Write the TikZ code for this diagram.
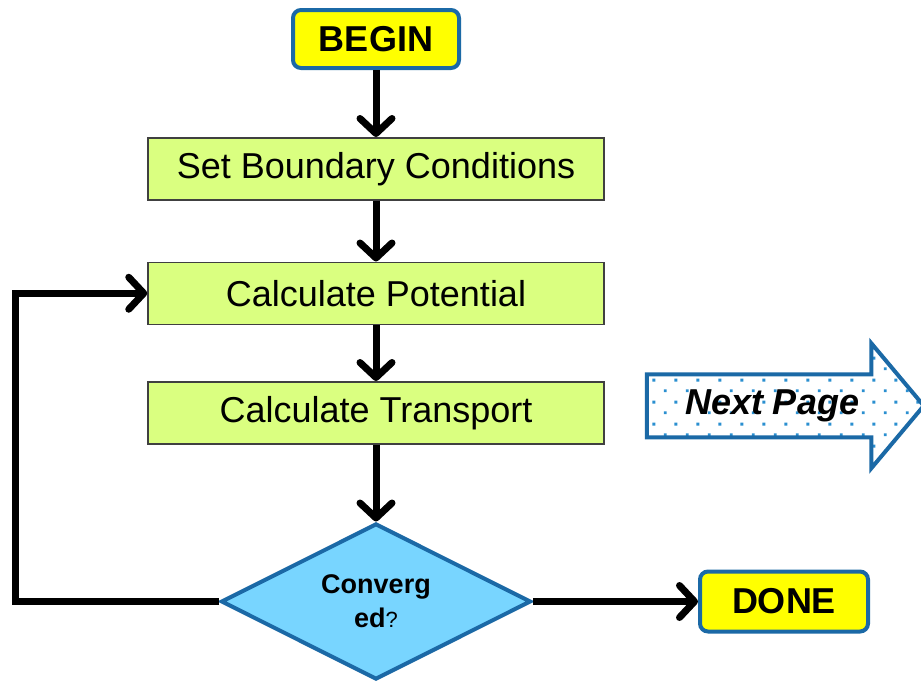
\documentclass[tikz,border=0pt]{standalone}
\usepackage{fontspec}
\setmainfont{Liberation Sans}
\usepackage{tikz}
\usetikzlibrary{shapes.geometric,shapes.arrows,arrows.meta,positioning,patterns.meta}
\definecolor{edgeblue}{HTML}{1B69A6}
\definecolor{dotblue}{HTML}{2A8FD0}
\definecolor{termfill}{HTML}{FFFF00}
\definecolor{procfill}{HTML}{DAFF80}
\definecolor{condfill}{HTML}{78D5FF}
\tikzdeclarepattern{
  name=bluedots, type=uncolored,
  bounding box={(0pt,0pt) and (22pt,22pt)},
  tile size={(22pt,22pt)},
  code={
    \fill (4pt,4pt) rectangle (7pt,7pt);
    \fill (15pt,15pt) rectangle (18pt,18pt);
  }}

\begin{document}
\begin{tikzpicture}[
  x=1pt, y=-1pt,
  node distance=61pt,
  term/.style={draw=edgeblue, fill=termfill, line width=4pt, rounded corners=8pt,
               minimum width=166pt, minimum height=58pt,
               font=\fontsize{36}{40}\selectfont\bfseries},
  proc/.style={draw=black!75, fill=procfill, line width=1.5pt,
               minimum width=456pt, minimum height=62pt,
               font=\fontsize{36}{40}\selectfont},
  cond/.style={diamond, aspect=2, draw=edgeblue, fill=condfill, line width=4pt,
               inner sep=0pt, minimum width=310pt, minimum height=156pt,
               align=center, font=\fontsize{27}{34}\selectfont},
  nextpg/.style={single arrow, single arrow head extend=31pt, single arrow tip angle=100,
                 single arrow head indent=0pt, draw=edgeblue, line width=4pt,
                 pattern=bluedots, pattern color=dotblue, minimum height=277pt,
                 text height=25pt, text depth=8pt, inner ysep=13pt,
                 font=\fontsize{36}{40}\selectfont\bfseries\itshape},
  arr/.style={-{Straight Barb[length=15pt,width=32pt,round]}, line width=7pt}
]
\path[use as bounding box, fill=white] (0,0) rectangle (921,681);
\node[term] (begin) at (376,39) {BEGIN};
\node[proc, below=67pt of begin] (bound) {Set Boundary Conditions};
\node[proc, below=of bound] (pot) {Calculate Potential};
\node[proc, below=56pt of pot] (trans) {Calculate Transport};
\node[cond, below=77pt of trans] (conv) {\textbf{Converg}\\\textbf{ed}{\fontsize{22}{26}\selectfont ?}};
\node[term, minimum width=168pt, minimum height=60pt, right=165pt of conv] (done) {DONE};
\node[nextpg, right=40pt of trans, yshift=7pt] (next) {Next Page};
\draw[arr] (begin) -- (bound);
\draw[arr] (bound) -- (pot);
\draw[arr] (pot) -- (trans);
\draw[arr] (trans) -- (conv);
\draw[arr] (conv.west) -| ([xshift=-132pt]pot.west) -- (pot.west);
\draw[arr] (conv) -- (done);
\end{tikzpicture}
\end{document}
